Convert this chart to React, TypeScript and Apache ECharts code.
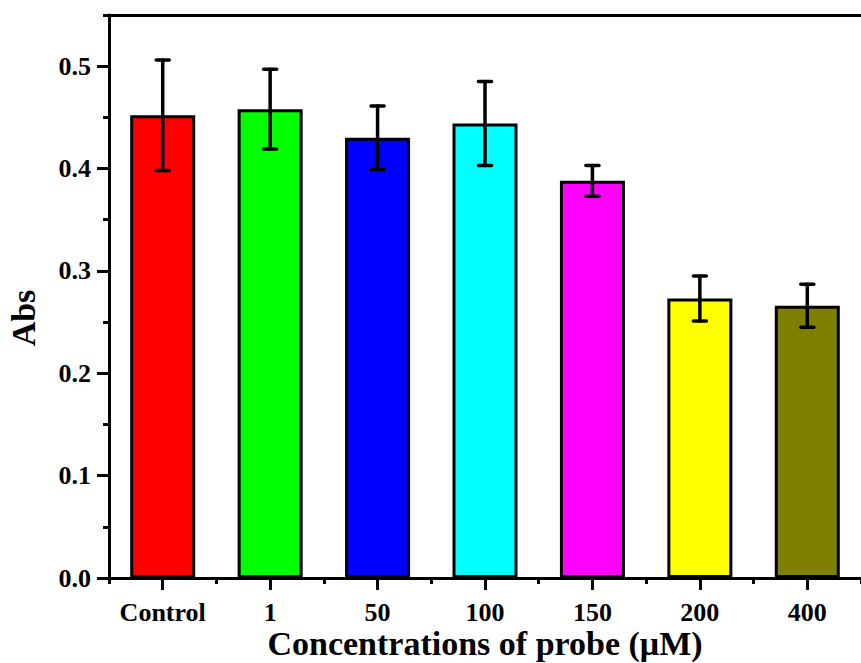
import React, { useEffect, useRef } from "react";
import * as echarts from "echarts";

const categories = ["Control", "1", "50", "100", "150", "200", "400"];
const absValues = [0.452, 0.458, 0.43, 0.444, 0.388, 0.273, 0.266];
const absErrors = [0.054, 0.039, 0.031, 0.041, 0.015, 0.022, 0.021];
const barColors = ["#ff0000", "#00ff00", "#0000ff", "#00ffff", "#ff00ff", "#ffff00", "#808000"];
const majorTicks = [0, 0.1, 0.2, 0.3, 0.4, 0.5];
const minorTicks = [0.05, 0.15, 0.25, 0.35, 0.45, 0.55];
const yTitle = "Abs";
const xTitle = "Concentrations of probe (μM)";

const FONT = "'Liberation Serif', 'Times New Roman', serif";

export default function App() {
  const ref = useRef<HTMLDivElement>(null);
  useEffect(() => {
    if (!ref.current) return;
    const chart = echarts.init(ref.current, null, { renderer: "svg" });
    const axisLineStyle = { color: "#000", width: 3 };
    const option: any = {
      animation: false,
      backgroundColor: "#fff",
      grid: { left: 109, right: 0, top: 15, bottom: 85, containLabel: false, outerBoundsMode: "none" },
      graphic: [
        {
          type: "text",
          x: 23,
          y: 318,
          rotation: Math.PI / 2,
          style: {
            text: yTitle,
            fill: "#000",
            font: `bold 34px ${FONT}`,
            align: "center",
            verticalAlign: "middle",
          },
        },
        {
          type: "text",
          x: 485,
          y: 643,
          style: {
            text: xTitle,
            fill: "#000",
            font: `bold 34px ${FONT}`,
            lineHeight: 34,
            align: "center",
            verticalAlign: "middle",
          },
        },
      ],
      xAxis: [
        {
          type: "category",
          data: categories,
          position: "bottom",
          axisLine: { show: true, lineStyle: axisLineStyle },
          axisTick: { show: true, alignWithLabel: false, length: 6, lineStyle: { color: "#000", width: 3 } },
          axisLabel: { interval: 0, color: "#000", fontFamily: FONT, fontWeight: "bold", fontSize: 26, lineHeight: 26, margin: 21 },
          splitLine: { show: false },
        },
        {
          type: "category",
          data: categories,
          position: "bottom",
          offset: 0,
          axisLine: { show: false },
          axisTick: { show: true, interval: 0, alignWithLabel: true, length: 12, lineStyle: { color: "#000", width: 3 } },
          axisLabel: { show: false },
          splitLine: { show: false },
        },
        {
          type: "category",
          data: categories,
          position: "top",
          axisLine: { show: true, lineStyle: axisLineStyle },
          axisTick: { show: false },
          axisLabel: { show: false },
          splitLine: { show: false },
        },
      ],
      yAxis: [
        {
          type: "value",
          min: 0,
          max: 0.55,
          interval: 0.1,
          position: "left",
          axisLine: { show: true, lineStyle: axisLineStyle },
          axisTick: { show: true, length: 12, customValues: majorTicks, lineStyle: { color: "#000", width: 3 } },
          axisLabel: {
            customValues: majorTicks,
            color: "#000",
            fontFamily: FONT,
            fontWeight: "bold",
            fontSize: 26,
            margin: 18,
            formatter: (v: number) => v.toFixed(1),
          },
          splitLine: { show: false },
        },
        {
          type: "value",
          min: 0,
          max: 0.55,
          interval: 0.1,
          position: "left",
          offset: 0,
          axisLine: { show: false },
          axisTick: { show: true, length: 6, customValues: minorTicks, lineStyle: { color: "#000", width: 3 } },
          axisLabel: { show: false },
          splitLine: { show: false },
        },
      ],
      series: [
        {
          type: "bar",
          xAxisIndex: 0,
          yAxisIndex: 0,
          barWidth: 65,
          data: absValues.map((v, i) => ({
            value: v,
            itemStyle: { color: barColors[i], borderColor: "#000", borderWidth: 3 },
          })),
          z: 2,
        },
        {
          type: "custom",
          xAxisIndex: 0,
          yAxisIndex: 0,
          z: 5,
          data: absValues.map((v, i) => [i, v - absErrors[i], v + absErrors[i]]),
          encode: { x: 0, y: [1, 2] },
          renderItem: (params: any, api: any) => {
            const x = api.value(0);
            const lo = api.coord([x, api.value(1)]);
            const hi = api.coord([x, api.value(2)]);
            const hw = 6.5;
            const style = { stroke: "#000", lineWidth: 3.5, lineCap: "round" };
            return {
              type: "group",
              children: [
                { type: "line", shape: { x1: lo[0], y1: lo[1], x2: hi[0], y2: hi[1] }, style },
                { type: "line", shape: { x1: lo[0] - hw, y1: lo[1], x2: lo[0] + hw, y2: lo[1] }, style },
                { type: "line", shape: { x1: hi[0] - hw, y1: hi[1], x2: hi[0] + hw, y2: hi[1] }, style },
              ],
            };
          },
        },
      ],
    };
    chart.setOption(option);
    return () => chart.dispose();
  }, []);
  return <div ref={ref} style={{ position: "fixed", left: 0, top: 0, width: 861, height: 663 }} />;
}
